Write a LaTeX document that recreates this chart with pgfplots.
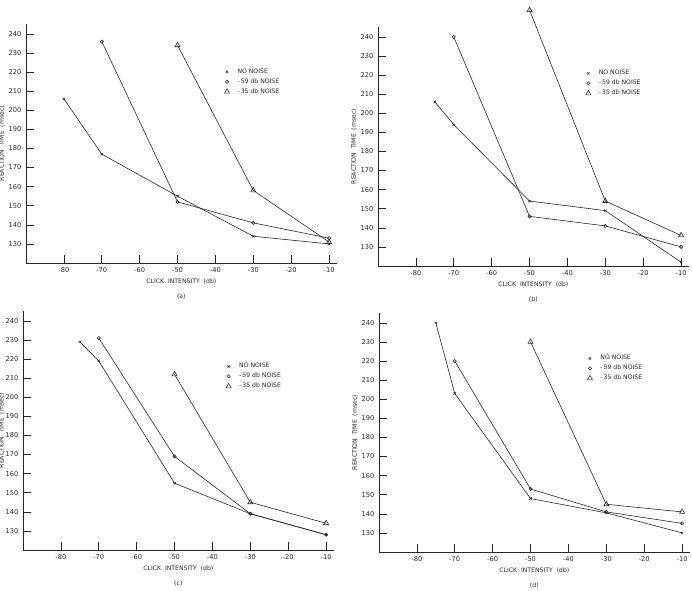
\documentclass[border=0pt]{standalone}
\usepackage{pgfplots}
\pgfplotsset{compat=1.18}
\usepackage{fontspec}
\setmainfont{DejaVu Sans}

\pgfplotsset{
  panel/.style={
    scale only axis, width=233pt, height=179pt,
    xmin=-90, xmax=-8, ymin=120, ymax=245,
    axis lines=left, axis line style={-, line width=0.5pt, black!85},
    tick align=inside, major tick length=6pt,
    tick style={black!85, line width=0.45pt},
    xtick={-80,-70,-60,-50,-40,-30,-20,-10},
    ytick={130,140,150,160,170,180,190,200,210,220,230,240},
    /pgf/number format/assume math mode=true,
    clip=false,
    font=\fontsize{5}{6}\selectfont,
    tick label style={font=\fontsize{5}{6}\selectfont, black!85},
    label style={font=\fontsize{4.6}{6}\selectfont, black!85},
    xlabel style={align=center, yshift=2pt},
    ylabel={REACTION\ \ TIME \ (msec)},
    ylabel style={yshift=-4pt},
    legend style={draw=none, fill=none, font=\fontsize{4.6}{5.5}\selectfont,
      anchor=north west, row sep=-1.5pt, column sep=4pt, inner sep=0pt, text=black!85},
    legend cell align=left,
  },
  nn/.style={black!85, line width=0.45pt, mark=x, mark size=1.2pt, mark options={solid}, forget plot},
  n59/.style={black!85, line width=0.45pt, mark=o, mark size=1.2pt, mark options={solid}, forget plot},
  n35/.style={black!85, line width=0.45pt, mark=triangle, mark size=2.2pt, mark options={solid}, forget plot},
}
\newcommand{\legendset}{%
  \addlegendimage{only marks, mark=x, mark size=1.2pt, black!85}
  \addlegendentry{NO NOISE}
  \addlegendimage{only marks, mark=o, mark size=1.2pt, black!85}
  \addlegendentry{-\,59 db NOISE}
  \addlegendimage{only marks, mark=triangle, mark size=2.2pt, black!85}
  \addlegendentry{-\,35 db NOISE}
}

\begin{document}
\begin{tikzpicture}
\path[use as bounding box] (0,0) rectangle (519pt,442.5pt);

% (a)
\begin{axis}[panel, at={(19.5pt,245.25pt)}, anchor=south west,
  xlabel={CLICK\ \ INTENSITY \ (db)\\[5pt](a)},
  legend style={at={(0.638,0.827)}}]
\legendset
\addplot[nn] coordinates {(-80,206) (-70,177) (-50,155) (-30,134) (-10,130)};
\addplot[n59] coordinates {(-70,236) (-50,152) (-30,141) (-10,133)};
\addplot[n35] coordinates {(-50,234) (-30,158) (-10,131)};
\end{axis}

% (b)
\begin{axis}[panel, at={(283.5pt,243pt)}, anchor=south west,
  xlabel={CLICK\ \ INTENSITY \ (db)\\[5pt](b)},
  legend style={at={(0.668,0.833)}}]
\legendset
\addplot[nn] coordinates {(-75,206) (-70,194) (-50,154) (-30,149) (-10,122)};
\addplot[n59] coordinates {(-70,240) (-50,146) (-30,141) (-10,130)};
\addplot[n35] coordinates {(-50,254) (-30,154) (-10,136)};
\end{axis}

% (c)
\begin{axis}[panel, at={(17.25pt,30pt)}, anchor=south west,
  xlabel={CLICK\ \ INTENSITY \ (db)\\[5pt](c)},
  ylabel style={yshift=-2pt},
  legend style={at={(0.653,0.795)}}]
\legendset
\addplot[nn] coordinates {(-75,229) (-70,219) (-50,155) (-30,139) (-10,128)};
\addplot[n59] coordinates {(-70,231) (-50,169) (-30,139) (-10,128)};
\addplot[n35] coordinates {(-50,212) (-30,145) (-10,134)};
\end{axis}

% (d)
\begin{axis}[panel, at={(284.25pt,28.5pt)}, anchor=south west,
  xlabel={CLICK\ \ INTENSITY \ (db)\\[5pt](d)},
  legend style={at={(0.67,0.837)}}]
\legendset
\addplot[nn] coordinates {(-75,240) (-70,203) (-50,148) (-30,140.5) (-10,130)};
\addplot[n59] coordinates {(-70,220) (-50,153) (-30,141) (-10,135)};
\addplot[n35] coordinates {(-50,230) (-30,145) (-10,141)};
\end{axis}
\end{tikzpicture}
\end{document}
